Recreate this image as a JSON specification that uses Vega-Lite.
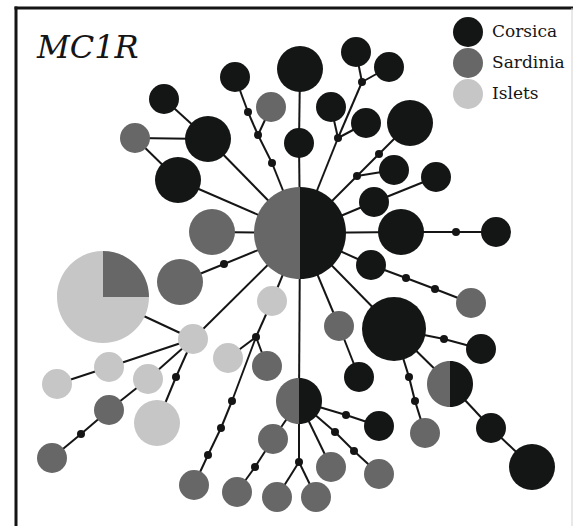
{
  "$schema": "https://vega.github.io/schema/vega-lite/v6.json",
  "width": 556,
  "height": 518.5,
  "autosize": {"type": "none"},
  "padding": {"left": 15.5, "top": 7.5, "right": 1.5, "bottom": 0},
  "background": "white",
  "config": {"view": {"stroke": null}},
  "title": {
    "text": "MC1R", "anchor": "start", "frame": "group", "orient": "top", "offset": 0,
    "font": "DejaVu Serif", "fontStyle": "italic", "fontWeight": "normal", "fontSize": 32,
    "color": "#151515", "baseline": "alphabetic", "dx": 21.5, "dy": 82.5
  },
  "datasets": {
    "medians": [
      {"id": "m1", "x": 248, "y": 112}, {"id": "m2", "x": 258, "y": 135}, {"id": "m3", "x": 272, "y": 163},
      {"id": "m4", "x": 362, "y": 82}, {"id": "m5", "x": 338, "y": 138}, {"id": "m6", "x": 379, "y": 154},
      {"id": "m7", "x": 357, "y": 176}, {"id": "m8", "x": 456, "y": 232}, {"id": "m9", "x": 406, "y": 278},
      {"id": "m10", "x": 435, "y": 289}, {"id": "m11", "x": 444, "y": 339}, {"id": "m12", "x": 409, "y": 377},
      {"id": "m13", "x": 415, "y": 401}, {"id": "m14", "x": 346, "y": 415}, {"id": "m15", "x": 335, "y": 432},
      {"id": "m16", "x": 354, "y": 451}, {"id": "m17", "x": 299, "y": 462}, {"id": "m18", "x": 255, "y": 467},
      {"id": "m19", "x": 224, "y": 264}, {"id": "m20", "x": 256, "y": 337}, {"id": "m21", "x": 232, "y": 401},
      {"id": "m22", "x": 221, "y": 428}, {"id": "m23", "x": 208, "y": 455}, {"id": "m24", "x": 176, "y": 377},
      {"id": "m25", "x": 81, "y": 434}
    ],
    "haps": [
      {"id": "H0", "x": 300, "y": 233, "pop": "Sardinia", "part": "left", "n": 4},
      {"id": "H0", "x": 300, "y": 233, "pop": "Corsica", "part": "right", "n": 4},
      {"id": "H1", "x": 300, "y": 69, "pop": "Corsica", "part": "whole", "n": 2},
      {"id": "H2", "x": 299, "y": 143, "pop": "Corsica", "part": "whole", "n": 1},
      {"id": "H3", "x": 356, "y": 52, "pop": "Corsica", "part": "whole", "n": 1},
      {"id": "H4", "x": 389, "y": 67, "pop": "Corsica", "part": "whole", "n": 1},
      {"id": "H5", "x": 331, "y": 107, "pop": "Corsica", "part": "whole", "n": 1},
      {"id": "H6", "x": 366, "y": 123, "pop": "Corsica", "part": "whole", "n": 1},
      {"id": "H7", "x": 410, "y": 123, "pop": "Corsica", "part": "whole", "n": 2},
      {"id": "H8", "x": 394, "y": 170, "pop": "Corsica", "part": "whole", "n": 1},
      {"id": "H9", "x": 436, "y": 177, "pop": "Corsica", "part": "whole", "n": 1},
      {"id": "H10", "x": 374, "y": 202, "pop": "Corsica", "part": "whole", "n": 1},
      {"id": "H11", "x": 401, "y": 232, "pop": "Corsica", "part": "whole", "n": 2},
      {"id": "H12", "x": 496, "y": 232, "pop": "Corsica", "part": "whole", "n": 1},
      {"id": "H13", "x": 371, "y": 265, "pop": "Corsica", "part": "whole", "n": 1},
      {"id": "H14", "x": 471, "y": 303, "pop": "Sardinia", "part": "whole", "n": 1},
      {"id": "H15", "x": 394, "y": 329, "pop": "Corsica", "part": "whole", "n": 3},
      {"id": "H16", "x": 339, "y": 326, "pop": "Sardinia", "part": "whole", "n": 1},
      {"id": "H17", "x": 359, "y": 377, "pop": "Corsica", "part": "whole", "n": 1},
      {"id": "H18", "x": 481, "y": 349, "pop": "Corsica", "part": "whole", "n": 1},
      {"id": "H19", "x": 425, "y": 433, "pop": "Sardinia", "part": "whole", "n": 1},
      {"id": "H20", "x": 450, "y": 384, "pop": "Sardinia", "part": "left", "n": 2},
      {"id": "H20", "x": 450, "y": 384, "pop": "Corsica", "part": "right", "n": 2},
      {"id": "H21", "x": 491, "y": 428, "pop": "Corsica", "part": "whole", "n": 1},
      {"id": "H22", "x": 532, "y": 467, "pop": "Corsica", "part": "whole", "n": 2},
      {"id": "H23", "x": 299, "y": 401, "pop": "Sardinia", "part": "left", "n": 2},
      {"id": "H23", "x": 299, "y": 401, "pop": "Corsica", "part": "right", "n": 2},
      {"id": "H24", "x": 379, "y": 426, "pop": "Corsica", "part": "whole", "n": 1},
      {"id": "H25", "x": 379, "y": 474, "pop": "Sardinia", "part": "whole", "n": 1},
      {"id": "H26", "x": 331, "y": 467, "pop": "Sardinia", "part": "whole", "n": 1},
      {"id": "H27", "x": 316, "y": 497, "pop": "Sardinia", "part": "whole", "n": 1},
      {"id": "H28", "x": 277, "y": 497, "pop": "Sardinia", "part": "whole", "n": 1},
      {"id": "H29", "x": 273, "y": 439, "pop": "Sardinia", "part": "whole", "n": 1},
      {"id": "H30", "x": 237, "y": 492, "pop": "Sardinia", "part": "whole", "n": 1},
      {"id": "H31", "x": 235, "y": 77, "pop": "Corsica", "part": "whole", "n": 1},
      {"id": "H32", "x": 271, "y": 107, "pop": "Sardinia", "part": "whole", "n": 1},
      {"id": "H33", "x": 164, "y": 99, "pop": "Corsica", "part": "whole", "n": 1},
      {"id": "H34", "x": 208, "y": 139, "pop": "Corsica", "part": "whole", "n": 2},
      {"id": "H35", "x": 135, "y": 138, "pop": "Sardinia", "part": "whole", "n": 1},
      {"id": "H36", "x": 178, "y": 180, "pop": "Corsica", "part": "whole", "n": 2},
      {"id": "H37", "x": 212, "y": 232, "pop": "Sardinia", "part": "whole", "n": 2},
      {"id": "H38", "x": 180, "y": 282, "pop": "Sardinia", "part": "whole", "n": 2},
      {"id": "H39", "x": 103, "y": 297, "pop": "Islets", "part": "threequarter", "n": 4},
      {"id": "H39", "x": 103, "y": 297, "pop": "Sardinia", "part": "quarter", "n": 4},
      {"id": "H40", "x": 193, "y": 339, "pop": "Islets", "part": "whole", "n": 1},
      {"id": "H41", "x": 272, "y": 301, "pop": "Islets", "part": "whole", "n": 1},
      {"id": "H42", "x": 228, "y": 358, "pop": "Islets", "part": "whole", "n": 1},
      {"id": "H43", "x": 267, "y": 366, "pop": "Sardinia", "part": "whole", "n": 1},
      {"id": "H44", "x": 194, "y": 485, "pop": "Sardinia", "part": "whole", "n": 1},
      {"id": "H45", "x": 109, "y": 367, "pop": "Islets", "part": "whole", "n": 1},
      {"id": "H46", "x": 57, "y": 384, "pop": "Islets", "part": "whole", "n": 1},
      {"id": "H47", "x": 148, "y": 379, "pop": "Islets", "part": "whole", "n": 1},
      {"id": "H48", "x": 109, "y": 410, "pop": "Sardinia", "part": "whole", "n": 1},
      {"id": "H49", "x": 52, "y": 458, "pop": "Sardinia", "part": "whole", "n": 1},
      {"id": "H50", "x": 157, "y": 423, "pop": "Islets", "part": "whole", "n": 2}
    ],
    "edges": [
      {"x1": 300, "y1": 233, "x2": 299, "y2": 143}, {"x1": 299, "y1": 143, "x2": 300, "y2": 69},
      {"x1": 300, "y1": 233, "x2": 272, "y2": 163}, {"x1": 272, "y1": 163, "x2": 258, "y2": 135},
      {"x1": 258, "y1": 135, "x2": 248, "y2": 112}, {"x1": 248, "y1": 112, "x2": 235, "y2": 77},
      {"x1": 258, "y1": 135, "x2": 271, "y2": 107},
      {"x1": 300, "y1": 233, "x2": 338, "y2": 138}, {"x1": 338, "y1": 138, "x2": 331, "y2": 107},
      {"x1": 338, "y1": 138, "x2": 366, "y2": 123}, {"x1": 338, "y1": 138, "x2": 362, "y2": 82},
      {"x1": 362, "y1": 82, "x2": 356, "y2": 52}, {"x1": 362, "y1": 82, "x2": 389, "y2": 67},
      {"x1": 300, "y1": 233, "x2": 357, "y2": 176}, {"x1": 357, "y1": 176, "x2": 394, "y2": 170},
      {"x1": 357, "y1": 176, "x2": 379, "y2": 154}, {"x1": 379, "y1": 154, "x2": 410, "y2": 123},
      {"x1": 300, "y1": 233, "x2": 374, "y2": 202}, {"x1": 374, "y1": 202, "x2": 436, "y2": 177},
      {"x1": 300, "y1": 233, "x2": 401, "y2": 232}, {"x1": 401, "y1": 232, "x2": 456, "y2": 232},
      {"x1": 456, "y1": 232, "x2": 496, "y2": 232},
      {"x1": 300, "y1": 233, "x2": 371, "y2": 265}, {"x1": 371, "y1": 265, "x2": 406, "y2": 278},
      {"x1": 406, "y1": 278, "x2": 435, "y2": 289}, {"x1": 435, "y1": 289, "x2": 471, "y2": 303},
      {"x1": 300, "y1": 233, "x2": 394, "y2": 329}, {"x1": 394, "y1": 329, "x2": 444, "y2": 339},
      {"x1": 444, "y1": 339, "x2": 481, "y2": 349}, {"x1": 394, "y1": 329, "x2": 409, "y2": 377},
      {"x1": 409, "y1": 377, "x2": 415, "y2": 401}, {"x1": 415, "y1": 401, "x2": 425, "y2": 433},
      {"x1": 394, "y1": 329, "x2": 450, "y2": 384}, {"x1": 450, "y1": 384, "x2": 491, "y2": 428},
      {"x1": 491, "y1": 428, "x2": 532, "y2": 467},
      {"x1": 300, "y1": 233, "x2": 339, "y2": 326}, {"x1": 339, "y1": 326, "x2": 359, "y2": 377},
      {"x1": 300, "y1": 233, "x2": 299, "y2": 401}, {"x1": 299, "y1": 401, "x2": 299, "y2": 462},
      {"x1": 299, "y1": 462, "x2": 316, "y2": 497}, {"x1": 299, "y1": 462, "x2": 277, "y2": 497},
      {"x1": 299, "y1": 401, "x2": 346, "y2": 415}, {"x1": 346, "y1": 415, "x2": 379, "y2": 426},
      {"x1": 299, "y1": 401, "x2": 335, "y2": 432}, {"x1": 335, "y1": 432, "x2": 354, "y2": 451},
      {"x1": 354, "y1": 451, "x2": 379, "y2": 474},
      {"x1": 299, "y1": 401, "x2": 331, "y2": 467},
      {"x1": 299, "y1": 401, "x2": 273, "y2": 439}, {"x1": 273, "y1": 439, "x2": 255, "y2": 467},
      {"x1": 255, "y1": 467, "x2": 237, "y2": 492},
      {"x1": 300, "y1": 233, "x2": 208, "y2": 139}, {"x1": 208, "y1": 139, "x2": 164, "y2": 99},
      {"x1": 208, "y1": 139, "x2": 135, "y2": 138}, {"x1": 135, "y1": 138, "x2": 178, "y2": 180},
      {"x1": 300, "y1": 233, "x2": 178, "y2": 180},
      {"x1": 300, "y1": 233, "x2": 212, "y2": 232},
      {"x1": 300, "y1": 233, "x2": 224, "y2": 264}, {"x1": 224, "y1": 264, "x2": 180, "y2": 282},
      {"x1": 300, "y1": 233, "x2": 193, "y2": 339}, {"x1": 193, "y1": 339, "x2": 103, "y2": 297},
      {"x1": 193, "y1": 339, "x2": 109, "y2": 367}, {"x1": 109, "y1": 367, "x2": 57, "y2": 384},
      {"x1": 193, "y1": 339, "x2": 148, "y2": 379}, {"x1": 148, "y1": 379, "x2": 109, "y2": 410},
      {"x1": 109, "y1": 410, "x2": 81, "y2": 434}, {"x1": 81, "y1": 434, "x2": 52, "y2": 458},
      {"x1": 193, "y1": 339, "x2": 176, "y2": 377}, {"x1": 176, "y1": 377, "x2": 157, "y2": 423},
      {"x1": 300, "y1": 233, "x2": 272, "y2": 301}, {"x1": 272, "y1": 301, "x2": 256, "y2": 337},
      {"x1": 256, "y1": 337, "x2": 228, "y2": 358}, {"x1": 256, "y1": 337, "x2": 267, "y2": 366},
      {"x1": 256, "y1": 337, "x2": 232, "y2": 401}, {"x1": 232, "y1": 401, "x2": 221, "y2": 428},
      {"x1": 221, "y1": 428, "x2": 208, "y2": 455}, {"x1": 208, "y1": 455, "x2": 194, "y2": 485}
    ]
  },
  "layer": [
    {
      "data": {"name": "edges"},
      "mark": {"type": "rule", "color": "#151515", "strokeWidth": 2},
      "encoding": {
        "x": {"field": "x1", "type": "quantitative",
          "scale": {"domain": [15.5, 571.5], "nice": false, "zero": false},
          "axis": {"orient": "top", "domain": true, "domainColor": "#151515", "domainWidth": 3, "domainCap": "square", "ticks": false, "labels": false, "grid": false, "title": null}},
        "y": {"field": "y1", "type": "quantitative",
          "scale": {"domain": [7.5, 526], "reverse": true, "nice": false, "zero": false},
          "axis": {"orient": "left", "domain": true, "domainColor": "#151515", "domainWidth": 3, "domainCap": "square", "ticks": false, "labels": false, "grid": false, "title": null}},
        "x2": {"field": "x2"},
        "y2": {"field": "y2"}
      }
    },
    {
      "data": {"name": "medians"},
      "mark": {"type": "point", "filled": true, "opacity": 1, "size": 64, "color": "#151515", "strokeWidth": 0},
      "encoding": {
        "x": {"field": "x", "type": "quantitative", "axis": null},
        "y": {"field": "y", "type": "quantitative",
          "axis": {"orient": "right", "domain": true, "domainColor": "#d2d2d2", "domainWidth": 1, "ticks": false, "labels": false, "grid": false, "title": null}}
      }
    },
    {
      "data": {"name": "haps"},
      "mark": {"type": "point", "filled": true, "opacity": 1, "strokeWidth": 0},
      "encoding": {
        "x": {"field": "x", "type": "quantitative", "axis": null},
        "y": {"field": "y", "type": "quantitative", "axis": null},
        "size": {"field": "n", "type": "quantitative",
          "scale": {"type": "linear", "domain": [1, 2, 3, 4], "range": [900, 2116, 4096, 8464]}, "legend": null},
        "shape": {"field": "part", "type": "nominal",
          "scale": {"domain": ["whole", "left", "right", "quarter", "threequarter"],
            "range": ["circle", "M0,-1A1,1,0,0,0,0,1Z", "M0,-1A1,1,0,0,1,0,1Z", "M0,0L0,-1A1,1,0,0,1,1,0Z", "M0,0L1,0A1,1,0,1,1,0,-1Z"]},
          "legend": null},
        "color": {"field": "pop", "type": "nominal",
          "scale": {"domain": ["Corsica", "Sardinia", "Islets"], "range": ["#141615", "#676767", "#c5c6c5"]},
          "legend": {"title": null, "orient": "none", "legendX": 437.5, "legendY": 9.5, "symbolType": "circle", "symbolSize": 900,
            "symbolStrokeWidth": 0, "symbolOpacity": 1, "labelFont": "DejaVu Serif", "labelFontSize": 17, "labelColor": "#151515",
            "labelOffset": 9, "rowPadding": 1, "padding": 0, "labelLimit": 300}}
      }
    }
  ],
  "resolve": {"axis": {"x": "independent", "y": "independent"}}
}
